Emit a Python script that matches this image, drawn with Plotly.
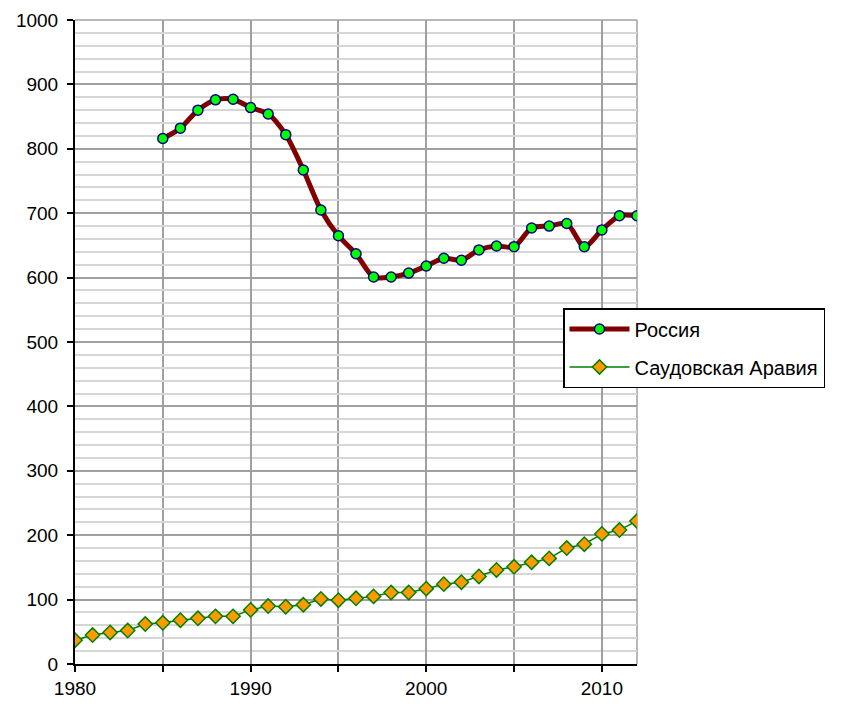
import plotly.graph_objects as go

russia_years = list(range(1985, 2013))
russia_values = [816, 832, 860, 876, 877, 864, 854, 822, 767, 705, 665, 637,
                 601, 601, 607, 618, 630, 627, 643, 649, 648, 677, 680, 684,
                 648, 674, 696, 696]

saudi_years = list(range(1980, 2013))
saudi_values = [37, 45, 49, 52, 62, 64, 68, 71, 74, 74, 84, 90, 89, 92, 101,
                99, 102, 105, 111, 111, 117, 124, 127, 136, 146, 151, 158,
                164, 180, 186, 202, 208, 222]

names = ["Россия", "Саудовская Аравия"]

fig = go.Figure()
fig.add_trace(go.Scatter(
    x=russia_years, y=russia_values, name=names[0], legendgroup="a",
    mode="lines+markers",
    line=dict(color="#800000", width=5, shape="spline", smoothing=0.8),
    marker=dict(symbol="circle", size=10, color="#00FF00",
                line=dict(color="#000080", width=1.5)),
))
fig.add_trace(go.Scatter(
    x=saudi_years, y=saudi_values, name=names[1], legendgroup="b",
    mode="lines+markers",
    line=dict(color="#008000", width=1.5),
    marker=dict(symbol="diamond", size=11, color="#FF9900",
                line=dict(color="#008000", width=1.5)),
))

fig.update_layout(
    width=842, height=704,
    margin=dict(l=75, r=205, t=20, b=40),
    paper_bgcolor="white", plot_bgcolor="white",
    font=dict(family="Liberation Sans, Arial, sans-serif", size=19, color="black"),
    showlegend=True,
    legend=dict(
        x=(563 - 75) / 562, y=(664 - 308) / 644, xanchor="left", yanchor="top",
        bgcolor="white", bordercolor="black", borderwidth=1.5,
        font=dict(size=20), itemwidth=60, tracegroupgap=9,
        traceorder="grouped",
    ),
    xaxis=dict(
        range=[1980, 2012], dtick=10, tick0=1980, automargin=False,
        showline=True, linecolor="black", linewidth=2,
        ticks="outside", ticklen=6, tickcolor="black", tickwidth=1.5,
        showgrid=True, gridcolor="#a0a0a0", gridwidth=1.5,
        zeroline=False, tickfont=dict(size=19),
        minor=dict(dtick=5, tick0=1980, ticks="outside", ticklen=6,
                   tickcolor="black", showgrid=True, gridcolor="#a0a0a0",
                   gridwidth=1.5),
    ),
    yaxis=dict(
        range=[0, 1000], dtick=100, automargin=False,
        showline=True, linecolor="black", linewidth=2,
        ticks="outside", ticklen=6, tickcolor="black", tickwidth=1.5,
        showgrid=True, gridcolor="#a0a0a0", gridwidth=1.5,
        zeroline=False, tickfont=dict(size=19), ticklabelstandoff=5,
        minor=dict(dtick=20, showgrid=True, gridcolor="#d6d6d6", gridwidth=1.5),
    ),
    shapes=[
        dict(type="line", xref="paper", yref="paper", x0=1, x1=1, y0=0, y1=1,
             line=dict(color="#a0a0a0", width=1.5), layer="below"),
        dict(type="line", xref="paper", yref="paper", x0=0, x1=1, y0=1, y1=1,
             line=dict(color="#a0a0a0", width=1.5), layer="below"),
    ],
)

fig.write_html("out.html", config={"displayModeBar": False},
               post_script="document.body.style.margin='0';")
